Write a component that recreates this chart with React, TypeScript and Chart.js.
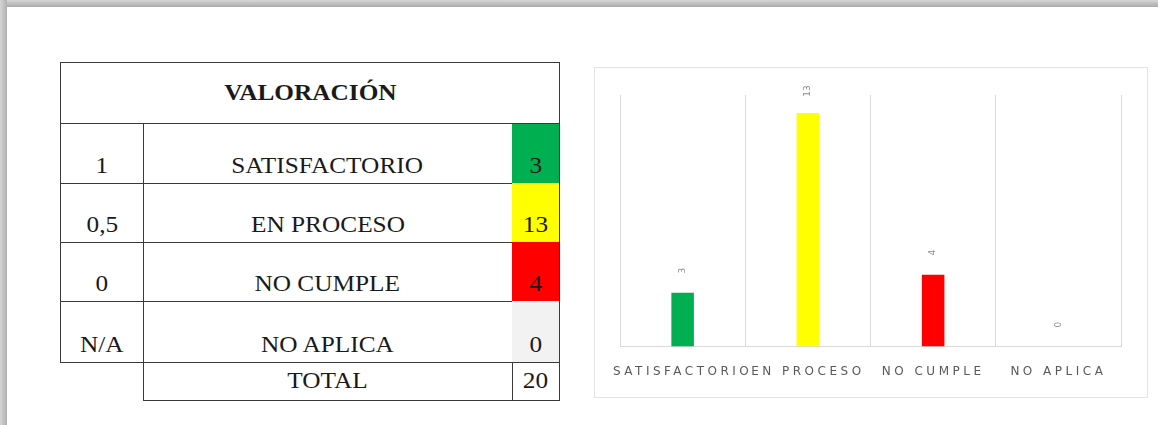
import React, { useEffect, useRef } from "react";
import { Chart, registerables } from "chart.js";

Chart.register(...registerables);

const categories = ["SATISFACTORIO", "EN PROCESO", "NO CUMPLE", "NO APLICA"];
const scores = ["1", "0,5", "0", "N/A"];
const counts = [3, 13, 4, 0];
const barColors = ["#00b050", "#ffff00", "#ff0000", "#d9d9d9"];
const cellColors = ["#00b050", "#ffff00", "#ff0000", "#f2f2f2"];
const totalLabel = "TOTAL";
const totalValue = 20;
const tableTitle = "VALORACIÓN";

const valueLabelPlugin = {
  id: "valueLabels",
  beforeDraw(chart: any) {
    chart.ctx.letterSpacing = "3.5px";
  },
  afterDatasetsDraw(chart: any) {
    const ctx = chart.ctx;
    const meta = chart.getDatasetMeta(0);
    ctx.save();
    ctx.letterSpacing = "0px";
    ctx.fillStyle = "#8c8c8c";
    ctx.font = "9px 'DejaVu Sans'";
    ctx.textAlign = "center";
    ctx.textBaseline = "middle";
    meta.data.forEach((el: any, i: number) => {
      const v = chart.data.datasets[0].data[i];
      ctx.save();
      ctx.translate(el.x, el.y - 22);
      ctx.rotate(-Math.PI / 2);
      ctx.fillText(String(v), 0, 0);
      ctx.restore();
    });
    ctx.restore();
  },
  afterDraw(chart: any) {
    chart.ctx.letterSpacing = "0px";
  },
};

function BarChart() {
  const ref = useRef<HTMLCanvasElement | null>(null);
  useEffect(() => {
    if (!ref.current) return;
    const chart = new Chart(ref.current, {
      type: "bar",
      data: {
        labels: categories,
        datasets: [
          {
            data: counts,
            backgroundColor: barColors,
            barPercentage: 0.18,
            categoryPercentage: 1,
          },
        ],
      },
      options: {
        animation: false,
        responsive: true,
        maintainAspectRatio: false,
        layout: { padding: { left: 25, right: 26, top: 27, bottom: 0 } },
        plugins: { legend: { display: false }, tooltip: { enabled: false } },
        scales: {
          x: {
            grid: { display: true, color: "#d9d9d9", offset: true, drawTicks: false },
            border: { display: true, color: "#d9d9d9" },
            ticks: {
              autoSkip: false,
              maxRotation: 0,
              minRotation: 0,
              padding: 18,
              color: "#595959",
              font: { family: "'DejaVu Sans'", size: 12 },
            },
          },
          y: {
            display: false,
            min: 0,
            max: 14,
          },
        },
      },
      plugins: [valueLabelPlugin],
    });
    return () => chart.destroy();
  }, []);
  return <canvas ref={ref} />;
}

const serif = "'Liberation Serif', 'Times New Roman', serif";
const line = "1px solid #3a3a3a";
const stretch = { display: "inline-block", transform: "scaleX(1.1)" } as const;

export default function App() {
  const rowTops = [124, 183, 242, 301];
  const rowH = [59, 59, 59, 61];
  const cell = {
    position: "absolute",
    boxSizing: "border-box",
    display: "flex",
    alignItems: "flex-end",
    justifyContent: "center",
    paddingBottom: 4,
    fontSize: 23,
    color: "#1a1a1a",
    borderBottom: line,
    borderRight: line,
  } as const;
  return (
    <div
      style={{
        position: "fixed",
        left: 0,
        top: 0,
        width: 1158,
        height: 425,
        background: "#ffffff",
        overflow: "hidden",
        fontFamily: serif,
      }}
    >
      <div
        style={{
          position: "absolute",
          left: 0,
          top: 0,
          width: 1158,
          height: 7,
          background: "linear-gradient(to bottom, #d6d6d6, #a9a9a9)",
        }}
      />
      <div
        style={{
          position: "absolute",
          left: 0,
          top: 0,
          width: 7,
          height: 425,
          background: "linear-gradient(to right, #d6d6d6, #b0b0b0)",
        }}
      />

      {/* Table */}
      <div
        style={{
          position: "absolute",
          left: 60,
          top: 62,
          width: 500,
          height: 62,
          border: line,
          boxSizing: "border-box",
          display: "flex",
          alignItems: "center",
          justifyContent: "center",
          fontWeight: "bold",
          fontSize: 23,
          color: "#1a1a1a",
        }}
      >
        <span style={stretch}>{tableTitle}</span>
      </div>
      {categories.map((c, i) => (
        <React.Fragment key={c}>
          <div
            style={{
              ...cell,
              left: 60,
              top: rowTops[i],
              width: 84,
              height: rowH[i] + 1,
              borderLeft: line,
            }}
          >
            <span style={stretch}>{scores[i]}</span>
          </div>
          <div style={{ ...cell, left: 143, top: rowTops[i], width: 370, height: rowH[i] + 1 }}>
            <span style={stretch}>{c}</span>
          </div>
          <div
            style={{
              ...cell,
              left: 512,
              top: rowTops[i],
              width: 48,
              height: rowH[i] + 1,
              background: cellColors[i],
            }}
          >
            <span style={stretch}>{counts[i]}</span>
          </div>
        </React.Fragment>
      ))}
      <div
        style={{
          ...cell,
          left: 143,
          top: 362,
          width: 370,
          height: 39,
          borderLeft: line,
          alignItems: "center",
          paddingBottom: 0,
        }}
      >
        <span style={stretch}>{totalLabel}</span>
      </div>
      <div
        style={{
          ...cell,
          left: 512,
          top: 362,
          width: 48,
          height: 39,
          alignItems: "center",
          paddingBottom: 0,
        }}
      >
        <span style={stretch}>{totalValue}</span>
      </div>

      {/* Chart panel */}
      <div
        style={{
          position: "absolute",
          left: 594,
          top: 67,
          width: 554,
          height: 331,
          border: "1px solid #e3e3e3",
          boxSizing: "border-box",
        }}
      >
        <div style={{ position: "relative", width: 552, height: 329 }}>
          <BarChart />
        </div>
      </div>
    </div>
  );
}
